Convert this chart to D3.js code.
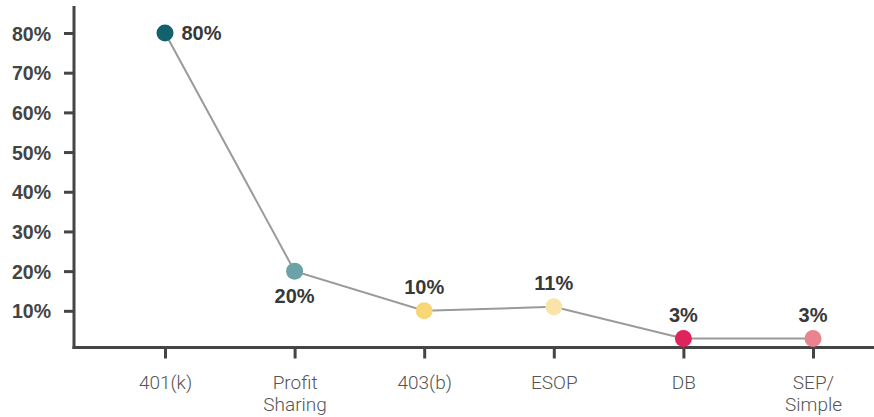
<!DOCTYPE html>
<html>
<head>
<meta charset="utf-8">
<script src="https://cdn.jsdelivr.net/npm/d3@7"></script>
<style>
  html, body { margin: 0; padding: 0; background: #fff; }
  svg { display: block; }
</style>
</head>
<body>
<svg id="chart" width="874" height="417"></svg>
<script>
// Plan types and share of plans offering each
const categories = ["401(k)", "Profit Sharing", "403(b)", "ESOP", "DB", "SEP/ Simple"];
const values = [80, 20, 10, 11, 3, 3];
const dotColors = ["#13616c", "#6aa2a8", "#f8d776", "#fae3a6", "#df245d", "#e8838f"];
const yTicks = [10, 20, 30, 40, 50, 60, 70, 80];
// where each value label sits relative to its dot
const labelPlacement = ["right", "below", "above", "above", "above", "above"];

const svg = d3.select("#chart");

const x = d3.scalePoint().domain(categories).range([165, 813]);
const y = d3.scaleLinear().domain([0, 80]).range([350.5, 33]);

const axisColor = "#454545";
const boldFont = "'Liberation Sans', Arial, sans-serif";
const lightFont = "Roboto, 'Open Sans', sans-serif";

// y axis
const yAxis = svg.append("g")
  .attr("transform", "translate(74,0)")
  .call(d3.axisLeft(y).tickValues(yTicks).tickFormat(d => d + "%").tickSize(10).tickPadding(13));
yAxis.select(".domain").remove();
yAxis.selectAll(".tick line").attr("stroke", axisColor).attr("stroke-width", 3);
yAxis.selectAll(".tick text")
  .attr("fill", "#444")
  .attr("dy", "0.36em")
  .style("font-family", boldFont)
  .style("font-weight", "700")
  .style("font-size", "19.5px");
svg.append("line")
  .attr("x1", 74).attr("x2", 74).attr("y1", 6).attr("y2", 349)
  .attr("stroke", axisColor).attr("stroke-width", 3);

// x axis
const xAxis = svg.append("g")
  .attr("transform", "translate(0,347.5)")
  .call(d3.axisBottom(x).tickSize(11).tickFormat(""));
xAxis.select(".domain").remove();
xAxis.selectAll(".tick line").attr("stroke", axisColor).attr("stroke-width", 3);
svg.append("line")
  .attr("x1", 72.5).attr("x2", 874).attr("y1", 347.5).attr("y2", 347.5)
  .attr("stroke", axisColor).attr("stroke-width", 3);

// category labels (split into lines on spaces)
xAxis.selectAll(".tick").each(function(d) {
  const words = d.split(" ");
  const t = d3.select(this).append("text")
    .attr("text-anchor", "middle")
    .attr("fill", "#555")
    .style("font-family", lightFont)
    .style("font-weight", "300")
    .style("font-size", "19px");
  words.forEach((w, i) => {
    t.append("tspan").attr("x", 0).attr("y", 41 + i * 22).text(w);
  });
});

// connecting line
const line = d3.line()
  .x((d, i) => x(categories[i]))
  .y(d => y(d));
svg.append("path")
  .datum(values)
  .attr("d", line)
  .attr("fill", "none")
  .attr("stroke", "#9a9a9a")
  .attr("stroke-width", 2);

// dots
svg.selectAll("circle.dot")
  .data(values)
  .join("circle")
  .attr("class", "dot")
  .attr("cx", (d, i) => x(categories[i]))
  .attr("cy", d => y(d))
  .attr("r", 8.5)
  .attr("fill", (d, i) => dotColors[i]);

// value labels
svg.selectAll("text.val")
  .data(values)
  .join("text")
  .attr("class", "val")
  .attr("x", (d, i) => {
    const cx = x(categories[i]);
    return labelPlacement[i] === "right" ? cx + 16.5 : cx;
  })
  .attr("y", (d, i) => {
    const cy = y(d);
    if (labelPlacement[i] === "right") return cy + 7;
    if (labelPlacement[i] === "below") return cy + 32;
    return cy - 17;
  })
  .attr("text-anchor", (d, i) => labelPlacement[i] === "right" ? "start" : "middle")
  .attr("fill", "#383838")
  .style("font-family", boldFont)
  .style("font-weight", "700")
  .style("font-size", "20px")
  .text(d => d + "%");
</script>
</body>
</html>
